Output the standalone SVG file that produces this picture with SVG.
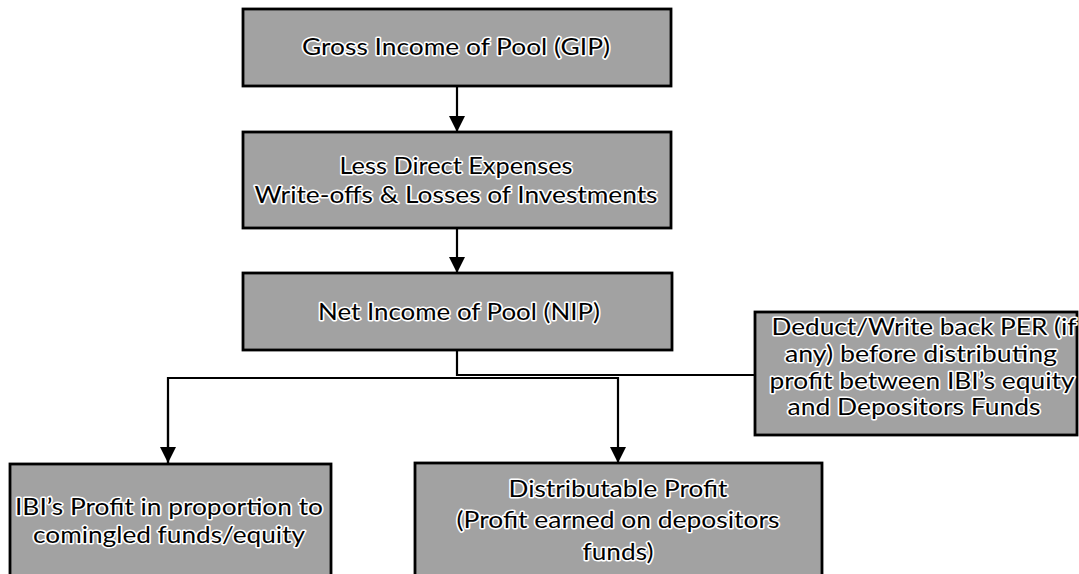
<svg xmlns="http://www.w3.org/2000/svg" width="1079" height="574" viewBox="0 0 1079 574">
<defs>
<style>
.box{fill:#a2a2a2;stroke:#000;stroke-width:2.8}
.t{font-family:"Lato","Liberation Sans",sans-serif;font-size:23px;fill:#000;stroke:#fff;stroke-width:3;paint-order:stroke;stroke-linejoin:round;text-anchor:middle}
.ln{fill:none;stroke:#000;stroke-width:2.2}
</style>
<marker id="arr" viewBox="0 0 16 16" refX="16" refY="8" markerWidth="16" markerHeight="16" markerUnits="userSpaceOnUse" orient="auto">
<path d="M0,0 L16,8 L0,16 Z" fill="#000"/>
</marker>
</defs>
<g id="connectors">
<line class="ln" x1="457" y1="86" x2="457" y2="132" marker-end="url(#arr)"/>
<line class="ln" x1="457" y1="228" x2="457" y2="273" marker-end="url(#arr)"/>
<polyline class="ln" points="457,350 457,375 755,375"/>
<polyline class="ln" points="168,463 168,378 618,378 618,463" marker-end="url(#arr)"/>
<line class="ln" x1="168" y1="400" x2="168" y2="463" marker-end="url(#arr)"/>
</g>
<g id="gip">
<rect class="box" x="243" y="9" width="428" height="77"/>
<text class="t" x="456" y="55" textLength="308" lengthAdjust="spacingAndGlyphs">Gross Income of Pool (GIP)</text>
</g>
<g id="less">
<rect class="box" x="243" y="132" width="428" height="96"/>
<text class="t" x="456" y="174" textLength="233" lengthAdjust="spacingAndGlyphs">Less Direct Expenses</text>
<text class="t" x="456" y="203" textLength="403" lengthAdjust="spacingAndGlyphs">Write-offs &amp; Losses of Investments</text>
</g>
<g id="nip">
<rect class="box" x="243" y="273" width="429" height="77"/>
<text class="t" x="459" y="320" textLength="282" lengthAdjust="spacingAndGlyphs">Net Income of Pool (NIP)</text>
</g>
<g id="per">
<rect class="box" x="755" y="312" width="322" height="123"/>
<text class="t" x="924" y="335" textLength="305" lengthAdjust="spacingAndGlyphs">Deduct/Write back PER (if</text>
<text class="t" x="921" y="362" textLength="272" lengthAdjust="spacingAndGlyphs">any) before distributing</text>
<text class="t" x="922" y="389" textLength="305" lengthAdjust="spacingAndGlyphs">profit between IBI’s equity</text>
<text class="t" x="914" y="415" textLength="253" lengthAdjust="spacingAndGlyphs">and Depositors Funds</text>
</g>
<g id="ibi">
<rect class="box" x="10" y="464" width="321" height="115"/>
<text class="t" x="169" y="515" textLength="308" lengthAdjust="spacingAndGlyphs">IBI’s Profit in proportion to</text>
<text class="t" x="169" y="543" textLength="272" lengthAdjust="spacingAndGlyphs">comingled funds/equity</text>
</g>
<g id="dist">
<rect class="box" x="415" y="463" width="407" height="116"/>
<text class="t" x="618" y="497" textLength="219" lengthAdjust="spacingAndGlyphs">Distributable Profit</text>
<text class="t" x="618" y="528" textLength="323" lengthAdjust="spacingAndGlyphs">(Profit earned on depositors</text>
<text class="t" x="618" y="560" textLength="71" lengthAdjust="spacingAndGlyphs">funds)</text>
</g>
</svg>
